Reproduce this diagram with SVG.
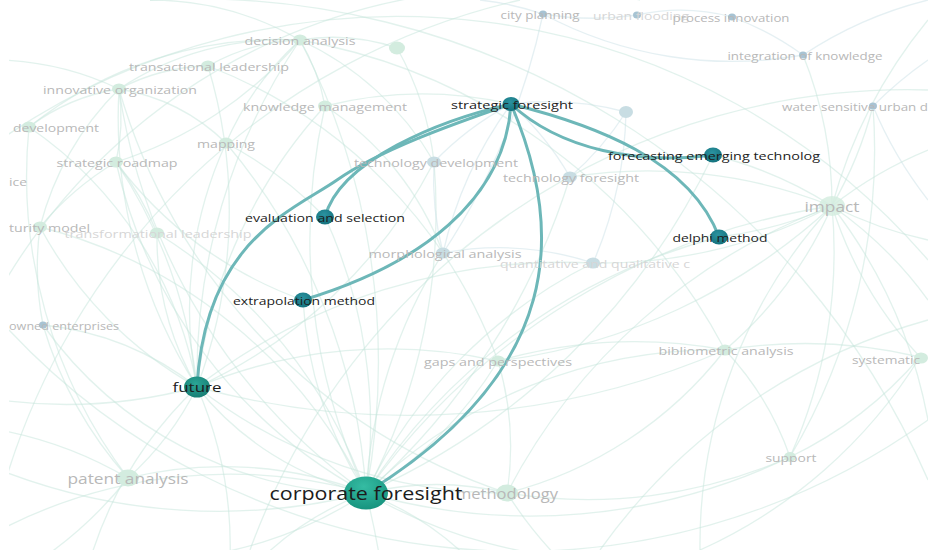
<svg xmlns="http://www.w3.org/2000/svg" width="928" height="550" viewBox="0 0 928 550">
<style>
.bg{fill:none;stroke:#c6e6dc;stroke-width:1.3;opacity:.5}
.bb{fill:none;stroke:#cce2e8;stroke-width:1.3;opacity:.5}
.hl{fill:none;stroke:#6db7b8;stroke-width:3;stroke-linecap:round}
text{font-family:"Open Sans","DejaVu Sans",sans-serif;dominant-baseline:central}
.d{font-size:11.5px;fill:#1c1c1c;text-anchor:middle}
.f{font-size:11.5px;fill:#b8b8b8;text-anchor:middle}
.fs{font-size:11.5px;fill:#b8b8b8;text-anchor:start}
.ff{font-size:11.5px;fill:#d6d6d6;text-anchor:middle}
.g{fill:#d3ecdf}
.b{fill:#c8dde3}
.bl{fill:#a7c3d3}
.dk{fill:url(#gdk)}
</style>
<defs>
<radialGradient id="gdk" cx="0.45" cy="0.35" r="0.7"><stop offset="0" stop-color="#2b93a0"/><stop offset="1" stop-color="#13707b"/></radialGradient>
<radialGradient id="gfu" cx="0.45" cy="0.35" r="0.7"><stop offset="0" stop-color="#2aa596"/><stop offset="1" stop-color="#167c72"/></radialGradient>
<radialGradient id="gcf" cx="0.45" cy="0.3" r="0.75"><stop offset="0" stop-color="#35bca3"/><stop offset="1" stop-color="#15917c"/></radialGradient>
<clipPath id="clip"><rect x="9" y="0" width="919" height="550"/></clipPath>
</defs>
<rect width="928" height="550" fill="#ffffff"/>
<g clip-path="url(#clip)">
<g id="connectors">
<g id="background-links">
<path class="bg" d="M366,493 A300 300 0 0 1 197,387"/>
<path class="bg" d="M366,493 A400 400 0 0 0 128,478"/>
<path class="bg" d="M366,493 A300 300 0 0 1 507,493"/>
<path class="bg" d="M366,493 A400 400 0 0 0 498,361"/>
<path class="bg" d="M366,493 A500 500 0 0 1 443,253"/>
<path class="bg" d="M366,493 A600 600 0 0 0 434,162"/>
<path class="bg" d="M366,493 A600 600 0 0 1 325,106"/>
<path class="bg" d="M366,493 A600 600 0 0 1 119,89"/>
<path class="bg" d="M366,493 A500 500 0 0 1 116,162"/>
<path class="bg" d="M366,493 A700 700 0 0 0 300,40"/>
<path class="bg" d="M366,493 A500 500 0 0 1 725,350"/>
<path class="bg" d="M366,493 A600 600 0 0 0 790,457"/>
<path class="bg" d="M366,493 A700 700 0 0 1 832,206"/>
<path class="bg" d="M366,493 A500 500 0 0 0 40,227"/>
<path class="bg" d="M366,493 A400 400 0 0 1 43,325"/>
<path class="bg" d="M366,493 A500 500 0 0 0 157,233"/>
<path class="bg" d="M366,493 A400 400 0 0 1 303,300"/>
<path class="bg" d="M366,493 A500 500 0 0 0 325,217"/>
<path class="bg" d="M366,493 A600 600 0 0 1 719,237"/>
<path class="bg" d="M366,493 A700 700 0 0 0 713,155"/>
<path class="bg" d="M366,493 A700 700 0 0 0 570,177"/>
<path class="bg" d="M366,493 A500 500 0 0 1 593,263"/>
<path class="bg" d="M366,493 A600 600 0 0 0 226,143"/>
<path class="bg" d="M366,493 A800 800 0 0 1 380,560"/>
<path class="bg" d="M366,493 A300 300 0 0 0 260,560"/>
<path class="bg" d="M366,493 A300 300 0 0 1 470,560"/>
<path class="bg" d="M366,493 A600 600 0 0 1 0,470"/>
<path class="bg" d="M366,493 A500 500 0 0 0 0,530"/>
<path class="bg" d="M366,493 A500 500 0 0 0 620,560"/>
<path class="bg" d="M366,493 A400 400 0 0 1 150,560"/>
<path class="bg" d="M197,387 A500 500 0 0 0 116,162"/>
<path class="bg" d="M197,387 A500 500 0 0 1 119,89"/>
<path class="bg" d="M197,387 A600 600 0 0 1 300,40"/>
<path class="bg" d="M197,387 A500 500 0 0 0 208,66"/>
<path class="bg" d="M197,387 A500 500 0 0 1 325,106"/>
<path class="bg" d="M197,387 A300 300 0 0 1 128,478"/>
<path class="bg" d="M197,387 A300 300 0 0 0 43,325"/>
<path class="bg" d="M197,387 A400 400 0 0 1 40,227"/>
<path class="bg" d="M197,387 A500 500 0 0 0 434,162"/>
<path class="bg" d="M197,387 A400 400 0 0 1 226,143"/>
<path class="bg" d="M197,387 A500 500 0 0 0 507,493"/>
<path class="bg" d="M197,387 A500 500 0 0 1 498,361"/>
<path class="bg" d="M197,387 A800 800 0 0 0 725,350"/>
<path class="bg" d="M197,387 A500 500 0 0 1 0,400"/>
<path class="bg" d="M197,387 A400 400 0 0 0 90,560"/>
<path class="bg" d="M197,387 A400 400 0 0 1 230,560"/>
<path class="bg" d="M197,387 A400 400 0 0 0 29,127"/>
<path class="bg" d="M197,387 A300 300 0 0 1 157,233"/>
<path class="bg" d="M197,387 A600 600 0 0 1 593,263"/>
<path class="bg" d="M832,206 A400 400 0 0 0 873,106"/>
<path class="bg" d="M832,206 A400 400 0 0 1 725,350"/>
<path class="bg" d="M832,206 A400 400 0 0 0 920,357"/>
<path class="bg" d="M832,206 A500 500 0 0 1 790,457"/>
<path class="bg" d="M832,206 A400 400 0 0 1 928,150"/>
<path class="bg" d="M832,206 A400 400 0 0 0 928,240"/>
<path class="bg" d="M832,206 A400 400 0 0 1 928,300"/>
<path class="bg" d="M832,206 A600 600 0 0 0 507,493"/>
<path class="bg" d="M832,206 A600 600 0 0 1 498,361"/>
<path class="bg" d="M832,206 A400 400 0 0 0 803,55"/>
<path class="bg" d="M832,206 A500 500 0 0 1 593,263"/>
<path class="bg" d="M832,206 A500 500 0 0 0 570,177"/>
<path class="bg" d="M832,206 A500 500 0 0 1 928,20"/>
<path class="bg" d="M832,206 A500 500 0 0 0 700,550"/>
<path class="bg" d="M832,206 A500 500 0 0 1 928,420"/>
<path class="bg" d="M832,206 A400 400 0 0 1 719,237"/>
<path class="bg" d="M832,206 A400 400 0 0 0 713,155"/>
<path class="bg" d="M300,40 A200 200 0 0 0 208,66"/>
<path class="bg" d="M300,40 A300 300 0 0 0 119,89"/>
<path class="bg" d="M300,40 A200 200 0 0 1 325,106"/>
<path class="bg" d="M300,40 A200 200 0 0 1 397,48"/>
<path class="bg" d="M300,40 A300 300 0 0 0 226,143"/>
<path class="bg" d="M300,40 A400 400 0 0 1 116,162"/>
<path class="bg" d="M300,40 A300 300 0 0 1 434,162"/>
<path class="bg" d="M300,40 A300 300 0 0 0 150,0"/>
<path class="bg" d="M119,89 A200 200 0 0 1 208,66"/>
<path class="bg" d="M119,89 A200 200 0 0 0 29,127"/>
<path class="bg" d="M119,89 A200 200 0 0 1 116,162"/>
<path class="bg" d="M119,89 A300 300 0 0 0 40,227"/>
<path class="bg" d="M119,89 A200 200 0 0 1 226,143"/>
<path class="bg" d="M119,89 A300 300 0 0 0 0,60"/>
<path class="bb" d="M543,14 A300 300 0 0 0 637,15"/>
<path class="bb" d="M637,15 A200 200 0 0 1 732,17"/>
<path class="bb" d="M732,17 A300 300 0 0 1 803,55"/>
<path class="bb" d="M543,14 A400 400 0 0 0 803,55"/>
<path class="bb" d="M543,14 A700 700 0 0 1 443,253"/>
<path class="bg" d="M397,48 A300 300 0 0 1 434,162"/>
<path class="bb" d="M626,112 A300 300 0 0 1 570,177"/>
<path class="bb" d="M626,112 A400 400 0 0 1 593,263"/>
<path class="bg" d="M511,104 A400 400 0 0 0 325,106"/>
<path class="bb" d="M511,104 A300 300 0 0 0 434,162"/>
<path class="bb" d="M511,104 A300 300 0 0 1 570,177"/>
<path class="bb" d="M511,104 A300 300 0 0 1 626,112"/>
<path class="bb" d="M511,104 A400 400 0 0 0 443,253"/>
<path class="bg" d="M790,457 A300 300 0 0 0 725,350"/>
<path class="bg" d="M790,457 A500 500 0 0 1 507,493"/>
<path class="bg" d="M790,457 A400 400 0 0 0 920,357"/>
<path class="bg" d="M725,350 A400 400 0 0 1 507,493"/>
<path class="bg" d="M725,350 A500 500 0 0 0 498,361"/>
<path class="bg" d="M725,350 A500 500 0 0 1 920,357"/>
<path class="bb" d="M593,263 A300 300 0 0 0 443,253"/>
<path class="bb" d="M443,253 A300 300 0 0 1 434,162"/>
<path class="bg" d="M498,361 A300 300 0 0 1 507,493"/>
<path class="bg" d="M40,227 A300 300 0 0 1 116,162"/>
<path class="bg" d="M40,227 A300 300 0 0 0 43,325"/>
<path class="bg" d="M157,233 A300 300 0 0 0 116,162"/>
<path class="bg" d="M128,478 A400 400 0 0 1 43,325"/>
<path class="bg" d="M128,478 A400 400 0 0 0 0,430"/>
<path class="bg" d="M128,478 A400 400 0 0 1 40,560"/>
<path class="bg" d="M507,493 A400 400 0 0 0 560,560"/>
<path class="bb" d="M873,106 A400 400 0 0 1 928,60"/>
<path class="bb" d="M873,106 A400 400 0 0 0 928,200"/>
<path class="bb" d="M803,55 A400 400 0 0 1 928,0"/>
<path class="bb" d="M543,14 A300 300 0 0 0 480,0"/>
<path class="bg" d="M0,140 A700 700 0 0 1 928,260"/>
<path class="bg" d="M150,0 A800 800 0 0 1 928,480"/>
<path class="bg" d="M9,330 A700 700 0 0 0 928,420"/>
<path class="bg" d="M600,550 A600 600 0 0 1 928,320"/>
<path class="bg" d="M0,500 A700 700 0 0 1 520,0"/>
<path class="bg" d="M0,290 A600 600 0 0 1 640,0"/>
<path class="bg" d="M250,550 A700 700 0 0 1 928,90"/>
<path class="bg" d="M29,127 A500 500 0 0 0 128,478"/>
<path class="bg" d="M29,127 A400 400 0 0 1 300,40"/>
<path class="bg" d="M116,162 A400 400 0 0 0 303,300"/>
<path class="bg" d="M226,143 A400 400 0 0 1 325,217"/>
<path class="bg" d="M325,106 A300 300 0 0 1 443,253"/>
<path class="bg" d="M208,66 A500 500 0 0 1 498,361"/>
<path class="bg" d="M119,89 A600 600 0 0 0 507,493"/>
<path class="bg" d="M300,40 A600 600 0 0 1 725,350"/>
<path class="bg" d="M873,106 A600 600 0 0 1 790,457"/>
<path class="bg" d="M920,357 A500 500 0 0 1 700,550"/>
</g>
<g id="highlight-links">
<path class="hl" d="M511,104 C440,120 340,160 325,217"/>
<path class="hl" d="M511,104 C450,125 380,150 337,180 S205,240 197,387"/>
<path class="hl" d="M511,104 C505,200 420,265 303,300"/>
<path class="hl" d="M511,104 C565,230 565,370 366,493"/>
<path class="hl" d="M511,104 C560,150 640,165 713,155"/>
<path class="hl" d="M511,104 C595,125 690,160 719,237"/>
</g>
</g>
<g id="n-city-planning"><ellipse class="bl" cx="543" cy="14" rx="4" ry="3.5"/><text class="f" x="540" y="14" textLength="79" lengthAdjust="spacingAndGlyphs">city planning</text></g>
<g id="n-urban-flooding"><ellipse class="bl" cx="637" cy="15" rx="4" ry="3.5"/><text class="ff" x="641" y="15" textLength="96" lengthAdjust="spacingAndGlyphs">urban flooding</text></g>
<g id="n-process-innovation"><ellipse class="bl" cx="732" cy="17" rx="4" ry="3.5"/><text class="f" x="731" y="17" textLength="117" lengthAdjust="spacingAndGlyphs">process innovation</text></g>
<g id="n-integration-of-knowledge"><ellipse class="bl" cx="803" cy="55" rx="4" ry="3.5"/><text class="f" x="805" y="55" textLength="155" lengthAdjust="spacingAndGlyphs">integration of knowledge</text></g>
<g id="n-decision-analysis"><ellipse class="g" cx="300" cy="40" rx="7" ry="5.5"/><text class="f" x="300" y="40" textLength="111" lengthAdjust="spacingAndGlyphs">decision analysis</text></g>
<g id="n-unlabelled-1"><ellipse class="g" cx="397" cy="48" rx="8" ry="6.5"/></g>
<g id="n-transactional-leadership"><ellipse class="g" cx="208" cy="66" rx="7" ry="5.5"/><text class="f" x="209" y="66" textLength="160" lengthAdjust="spacingAndGlyphs">transactional leadership</text></g>
<g id="n-innovative-organization"><ellipse class="g" cx="119" cy="89" rx="7" ry="5.5"/><text class="f" x="120" y="89" textLength="154" lengthAdjust="spacingAndGlyphs">innovative organization</text></g>
<g id="n-knowledge-management"><ellipse class="g" cx="325" cy="106" rx="7" ry="5.5"/><text class="f" x="325" y="106" textLength="164" lengthAdjust="spacingAndGlyphs">knowledge management</text></g>
<g id="n-unlabelled-2"><ellipse class="b" cx="626" cy="112" rx="7" ry="6"/></g>
<g id="n-water-sensitive"><ellipse class="bl" cx="873" cy="106" rx="4" ry="3.5"/><text class="fs" x="782" y="106" textLength="146" lengthAdjust="spacingAndGlyphs">water sensitive urban d</text></g>
<g id="n-development"><ellipse class="g" cx="29" cy="127" rx="7" ry="5.5"/><text class="fs" x="13" y="127" textLength="86" lengthAdjust="spacingAndGlyphs">development</text></g>
<g id="n-mapping"><ellipse class="g" cx="226" cy="143" rx="7" ry="5.5"/><text class="f" x="226" y="143" textLength="58" lengthAdjust="spacingAndGlyphs">mapping</text></g>
<g id="n-strategic-roadmap"><ellipse class="g" cx="116" cy="162" rx="7" ry="5.5"/><text class="f" x="117" y="162" textLength="121" lengthAdjust="spacingAndGlyphs">strategic roadmap</text></g>
<g id="n-technology-development"><ellipse class="b" cx="434" cy="162" rx="7" ry="5.5"/><text class="f" x="436" y="162" textLength="164" lengthAdjust="spacingAndGlyphs">technology development</text></g>
<g id="n-technology-foresight"><ellipse class="b" cx="570" cy="177" rx="7" ry="5.5"/><text class="f" x="571" y="177" textLength="136" lengthAdjust="spacingAndGlyphs">technology foresight</text></g>
<g id="n-ice"><text class="fs" x="9" y="181" textLength="18" lengthAdjust="spacingAndGlyphs">ice</text></g>
<g id="n-impact"><ellipse class="g" cx="832" cy="206" rx="13" ry="10" opacity="0.8"/><text class="f" x="832" y="206" style="font-size:14px" textLength="55" lengthAdjust="spacingAndGlyphs">impact</text></g>
<g id="n-maturity-model"><ellipse class="g" cx="40" cy="227" rx="7" ry="5.5"/><text class="fs" x="9" y="227" textLength="81" lengthAdjust="spacingAndGlyphs">turity model</text></g>
<g id="n-transformational-leadership"><ellipse class="g" cx="157" cy="233" rx="7" ry="5.5"/><text class="ff" x="158" y="233" textLength="187" lengthAdjust="spacingAndGlyphs">transformational leadership</text></g>
<g id="n-morphological-analysis"><ellipse class="b" cx="443" cy="253" rx="7" ry="5.5"/><text class="f" x="445" y="253" textLength="153" lengthAdjust="spacingAndGlyphs">morphological analysis</text></g>
<g id="n-quantitative"><ellipse class="b" cx="593" cy="263" rx="7" ry="5.5"/><text class="ff" x="595" y="263" textLength="190" lengthAdjust="spacingAndGlyphs">quantitative and qualitative c</text></g>
<g id="n-owned-enterprises"><ellipse class="bl" cx="43" cy="325" rx="4" ry="3.5"/><text class="fs" x="9" y="325" textLength="110" lengthAdjust="spacingAndGlyphs">owned enterprises</text></g>
<g id="n-bibliometric-analysis"><ellipse class="g" cx="725" cy="350" rx="7" ry="5.5"/><text class="f" x="726" y="350" textLength="135" lengthAdjust="spacingAndGlyphs">bibliometric analysis</text></g>
<g id="n-gaps-and-perspectives"><ellipse class="g" cx="498" cy="361" rx="7" ry="5.5"/><text class="f" x="498" y="361" textLength="148" lengthAdjust="spacingAndGlyphs">gaps and perspectives</text></g>
<g id="n-systematic"><ellipse class="g" cx="921" cy="358" rx="7" ry="5.5"/><text class="fs" x="852" y="359" textLength="68" lengthAdjust="spacingAndGlyphs">systematic</text></g>
<g id="n-support"><ellipse class="g" cx="790" cy="457" rx="6" ry="5"/><text class="f" x="791" y="457" textLength="51" lengthAdjust="spacingAndGlyphs">support</text></g>
<g id="n-patent-analysis"><ellipse class="g" cx="128" cy="478" rx="11" ry="8.5"/><text class="f" x="128" y="478" style="font-size:14px" textLength="121" lengthAdjust="spacingAndGlyphs">patent analysis</text></g>
<g id="n-methodology"><ellipse class="g" cx="507" cy="493" rx="11" ry="8.5"/><text class="f" x="507" y="493" style="font-size:14.5px" textLength="102" lengthAdjust="spacingAndGlyphs">methodology</text></g>
<g id="n-strategic-foresight"><ellipse class="dk" cx="511" cy="104" rx="8.5" ry="7"/><text class="d" x="512" y="104" textLength="122" lengthAdjust="spacingAndGlyphs">strategic foresight</text></g>
<g id="n-forecasting"><ellipse class="dk" cx="713" cy="155" rx="9" ry="7.5"/><text class="d" x="714" y="155" textLength="212" lengthAdjust="spacingAndGlyphs">forecasting emerging technolog</text></g>
<g id="n-delphi-method"><ellipse class="dk" cx="719" cy="237" rx="9" ry="7.5"/><text class="d" x="720" y="237" textLength="95" lengthAdjust="spacingAndGlyphs">delphi method</text></g>
<g id="n-evaluation-and-selection"><ellipse class="dk" cx="325" cy="217" rx="9" ry="7.5"/><text class="d" x="325" y="217" textLength="160" lengthAdjust="spacingAndGlyphs">evaluation and selection</text></g>
<g id="n-extrapolation-method"><ellipse class="dk" cx="303" cy="300" rx="9" ry="7.5"/><text class="d" x="304" y="300" textLength="142" lengthAdjust="spacingAndGlyphs">extrapolation method</text></g>
<g id="n-future"><ellipse fill="url(#gfu)" cx="197" cy="387" rx="13" ry="10.5"/><text class="d" x="197" y="387" style="font-size:13.5px" textLength="49" lengthAdjust="spacingAndGlyphs">future</text></g>
<g id="n-corporate-foresight"><ellipse fill="url(#gcf)" cx="366" cy="493" rx="22" ry="16.5"/><text class="d" x="366" y="493" style="font-size:18px" textLength="193" lengthAdjust="spacingAndGlyphs">corporate foresight</text></g>
</g>
</svg>
